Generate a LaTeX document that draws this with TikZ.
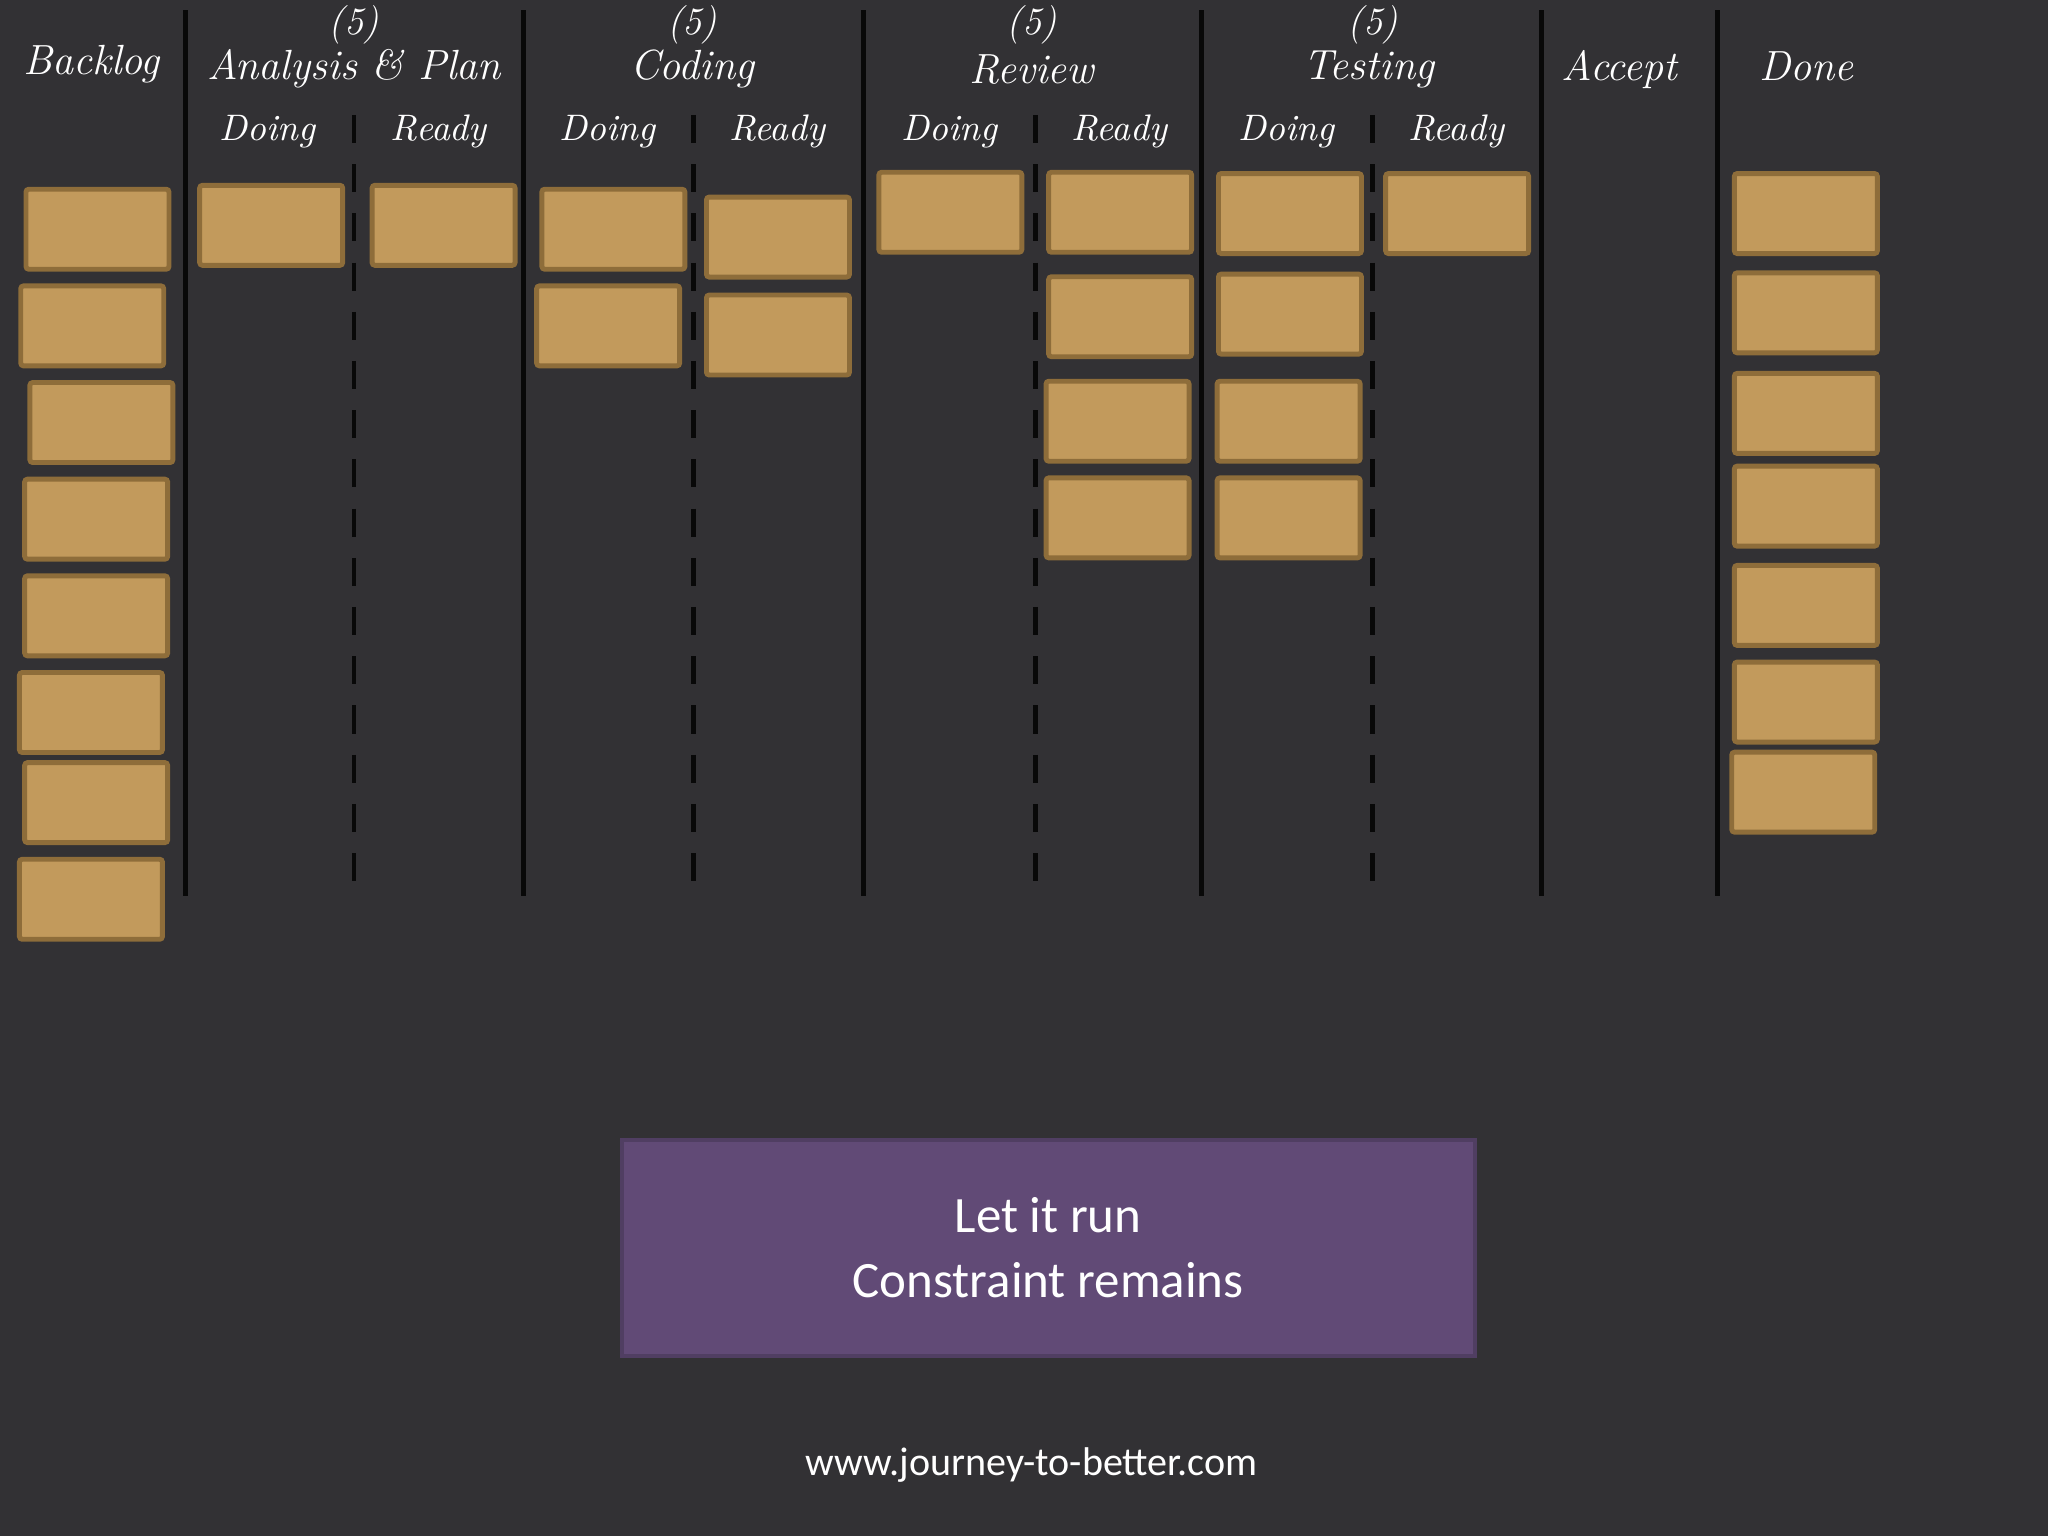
\documentclass[tikz,border=0pt]{standalone}
\usepackage{fontspec}
\newfontfamily\bodyfont{Carlito}
\begin{document}
\begin{tikzpicture}[x=0.013061cm,y=-0.013061cm]
\definecolor{bg}{RGB}{50,49,52}
\definecolor{cardfill}{RGB}{194,154,92}
\definecolor{cardedge}{RGB}{142,109,58}
\definecolor{lane}{RGB}{8,8,8}
\definecolor{purp}{RGB}{97,74,118}
\definecolor{purpedge}{RGB}{80,62,98}
\tikzset{
  card/.style={draw=cardedge, line width=1.4pt, fill=cardfill, rounded corners=0.8pt,
    minimum width=1.43cm, minimum height=0.80cm, inner sep=0pt, anchor=north west},
  sline/.style={draw=lane, line width=1.4pt},
  dline/.style={draw=lane, line width=1.4pt, dash pattern=on 8pt off 6pt},
  head/.style={text=white, font=\fontsize{12}{14}\selectfont\itshape, inner sep=0pt},
  lim/.style={text=white, font=\fontsize{11}{13}\selectfont\itshape, inner sep=0pt},
  sub/.style={text=white, font=\fontsize{10.5}{13}\selectfont\itshape, inner sep=0pt},
}
\fill[bg] (0,0) rectangle (1568,1176);
\useasboundingbox (0,0) rectangle (1568,1176);
% lane lines
\foreach \x in {142,401,661,920,1180,1315} \draw[sline] (\x,8) -- (\x,686);
\foreach \x in {271,531,793,1051} \draw[dline] (\x,88) -- (\x,686);
% headers
\node[head] (hbl) at (70,49) {Backlog};
\node[lim] (n1) at (271,19) {(5)};
\node[head] (han) at (271,53) {Analysis \& Plan};
\node[lim] (n2) at (530,19) {(5)};
\node[head] (hco) at (530,53) {Coding};
\node[lim] (n3) at (790,19) {(5)};
\node[head] (hre) at (790,53) {Review};
\node[lim] (n4) at (1051,19) {(5)};
\node[head] (hte) at (1048,53) {Testing};
\node[head] (hac) at (1240,53) {Accept};
\node[head] (hdo) at (1383,51) {Done};
\node[sub] (s1) at (205,101) {Doing};
\node[sub] (s2) at (336,101) {Ready};
\node[sub] (s3) at (465,101) {Doing};
\node[sub] (s4) at (595,101) {Ready};
\node[sub] (s5) at (727,101) {Doing};
\node[sub] (s6) at (857,101) {Ready};
\node[sub] (s7) at (985,101) {Doing};
\node[sub] (s8) at (1115,101) {Ready};
% backlog cards
\node[card] (b1) at (18,143) {};
\node[card] (b2) at (14,217) {};
\node[card] (b3) at (21,291) {};
\node[card] (b4) at (17,365) {};
\node[card] (b5) at (17,439) {};
\node[card] (b6) at (13,513) {};
\node[card] (b7) at (17,582) {};
\node[card] (b8) at (13,656) {};
% analysis
\node[card] (ad1) at (151,140) {};
\node[card] (ar1) at (283,140) {};
% coding
\node[card] (cd1) at (413,143) {};
\node[card] (cd2) at (409,217) {};
\node[card] (cr1) at (539,149) {};
\node[card] (cr2) at (539,224) {};
% review
\node[card] (rd1) at (671,130) {};
\node[card] (rr1) at (801,130) {};
\node[card] (rr2) at (801,210) {};
\node[card] (rr3) at (799,290) {};
\node[card] (rr4) at (799,364) {};
% testing
\node[card] (td1) at (931,131) {};
\node[card] (td2) at (931,208) {};
\node[card] (td3) at (930,290) {};
\node[card] (td4) at (930,364) {};
\node[card] (tr1) at (1059,131) {};
% done
\node[card] (d1) at (1326,131) {};
\node[card] (d2) at (1326,207) {};
\node[card] (d3) at (1326,284) {};
\node[card] (d4) at (1326,355) {};
\node[card] (d5) at (1326,431) {};
\node[card] (d6) at (1326,505) {};
\node[card] (d7) at (1324,574) {};
% note box
\node[draw=purpedge, line width=1.2pt, fill=purp, minimum width=8.529cm, minimum height=2.155cm,
  inner sep=0pt, text=white, align=center,
  font=\bodyfont\fontsize{14.5}{18.5}\selectfont] (note) at (802.5,955.5)
  {Let it run\\Constraint remains};
\node[text=white, font=\bodyfont\fontsize{11.4}{13}\selectfont, inner sep=0pt] (url) at (790,1122)
  {www.journey-to-better.com};
\end{tikzpicture}
\end{document}
